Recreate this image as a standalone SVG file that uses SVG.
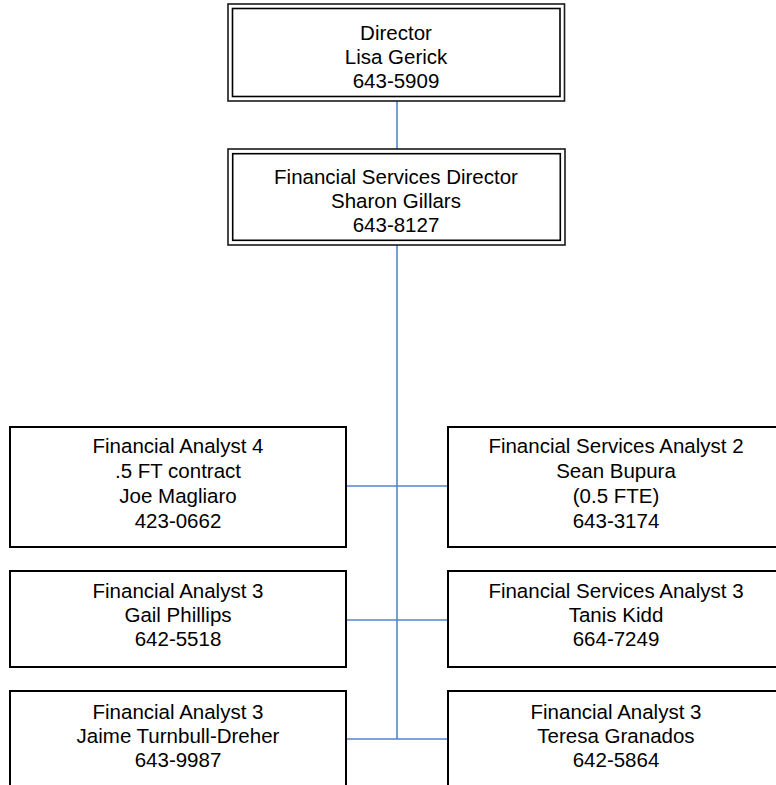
<svg xmlns="http://www.w3.org/2000/svg" width="776" height="785" viewBox="0 0 776 785">
<style>
  .bg { fill: #ffffff; }
  .box { fill: #ffffff; stroke: #000000; stroke-width: 2; }
  .outer { fill: #ffffff; stroke: #1a1a1a; stroke-width: 1.6; }
  .inner { fill: none; stroke: #000000; stroke-width: 1.6; }
  .conn { stroke: #5584CC; stroke-width: 1.6; fill: none; }
  text { font-family: "Liberation Sans", Arial, sans-serif; font-size: 20.5px; fill: #000000; text-anchor: middle; }
</style>
<rect class="bg" x="0" y="0" width="776" height="785"/>
<g id="connectors">
  <line class="conn" x1="397" y1="101" x2="397" y2="149"/>
  <line class="conn" x1="397" y1="245" x2="397" y2="739"/>
  <line class="conn" x1="346" y1="486" x2="448" y2="486"/>
  <line class="conn" x1="346" y1="620" x2="448" y2="620"/>
  <line class="conn" x1="346" y1="739" x2="448" y2="739"/>
</g>
<g id="director">
  <rect class="outer" x="228" y="4" width="336.5" height="97"/>
  <rect class="inner" x="232.5" y="8.5" width="327.5" height="88"/>
  <text x="396" y="39.5">Director</text>
  <text x="396" y="63.5">Lisa Gerick</text>
  <text x="396" y="87.5">643-5909</text>
</g>
<g id="fs-director">
  <rect class="outer" x="228" y="149" width="337" height="96"/>
  <rect class="inner" x="232.7" y="153.7" width="327.6" height="86.6"/>
  <text x="396" y="184">Financial Services Director</text>
  <text x="396" y="208">Sharon Gillars</text>
  <text x="396" y="232">643-8127</text>
</g>
<g id="fa4">
  <rect class="box" x="10" y="427" width="336" height="120"/>
  <text x="178" y="453">Financial Analyst 4</text>
  <text x="178" y="478">.5 FT contract</text>
  <text x="178" y="503">Joe Magliaro</text>
  <text x="178" y="528">423-0662</text>
</g>
<g id="fsa2">
  <rect class="box" x="448" y="427" width="336" height="120"/>
  <text x="616" y="453">Financial Services Analyst 2</text>
  <text x="616" y="478">Sean Bupura</text>
  <text x="616" y="503">(0.5 FTE)</text>
  <text x="616" y="528">643-3174</text>
</g>
<g id="fa3-gail">
  <rect class="box" x="10" y="571" width="336" height="96"/>
  <text x="178" y="597.5">Financial Analyst 3</text>
  <text x="178" y="621.5">Gail Phillips</text>
  <text x="178" y="645.5">642-5518</text>
</g>
<g id="fsa3-tanis">
  <rect class="box" x="448" y="571" width="336" height="96"/>
  <text x="616" y="597.5">Financial Services Analyst 3</text>
  <text x="616" y="621.5">Tanis Kidd</text>
  <text x="616" y="645.5">664-7249</text>
</g>
<g id="fa3-jaime">
  <rect class="box" x="10" y="691" width="336" height="100"/>
  <text x="178" y="719">Financial Analyst 3</text>
  <text x="178" y="743">Jaime Turnbull-Dreher</text>
  <text x="178" y="767">643-9987</text>
</g>
<g id="fa3-teresa">
  <rect class="box" x="448" y="691" width="336" height="100"/>
  <text x="616" y="719">Financial Analyst 3</text>
  <text x="616" y="743">Teresa Granados</text>
  <text x="616" y="767">642-5864</text>
</g>
</svg>
